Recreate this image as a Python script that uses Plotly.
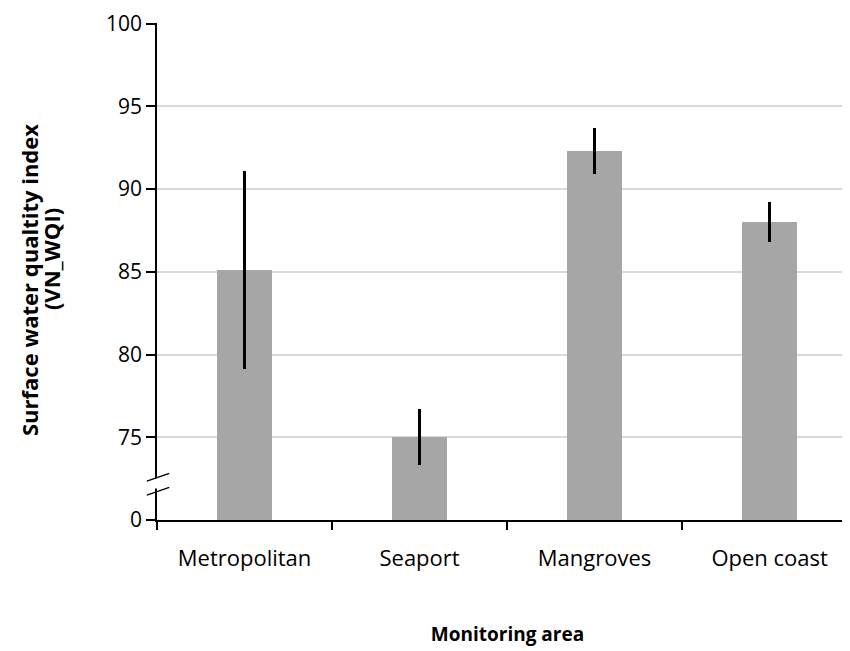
import plotly.graph_objects as go

categories = ["Metropolitan", "Seaport", "Mangroves", "Open coast"]
wqi_mean = [85.1, 75.0, 92.3, 88.0]
wqi_err = [6.0, 1.7, 1.4, 1.2]

y_tickvals = [70, 75, 80, 85, 90, 95, 100]
y_ticktext = ["0", "75", "80", "85", "90", "95", "100"]

y_title_lines = ["Surface water qualtity index", "(VN_WQI)"]
x_title = "Monitoring area"

FONT = "Open Sans"

fig = go.Figure()
fig.add_trace(go.Bar(
    x=categories,
    y=wqi_mean,
    width=0.31,
    marker=dict(color="#a6a6a6", line=dict(width=0)),
    error_y=dict(type="data", array=wqi_err, visible=True,
                 color="black", thickness=2.5, width=0),
))

# axis-break marks on the y axis
fig.add_shape(type="rect", xref="paper", yref="y", x0=-0.01, x1=0.01,
              y0=71.9, y1=72.5, fillcolor="white", line=dict(width=0), layer="above")
for yb in [71.5, 72.35]:
    fig.add_shape(type="line", xref="paper", yref="y",
                  x0=-0.0145, x1=0.0175, y0=yb, y1=yb + 0.47,
                  line=dict(color="black", width=1.3), layer="above")

# y-axis title (two lines)
for txt, xp, yp in [(y_title_lines[0], -0.1825, 0.483), (y_title_lines[1], -0.1512, 0.525)]:
    fig.add_annotation(text="<b>" + txt + "</b>", xref="paper", yref="paper",
                       x=xp, y=yp, xanchor="center", yanchor="middle",
                       textangle=-90, showarrow=False,
                       font=dict(family=FONT, size=22, color="black"))

fig.update_layout(
    width=850, height=651,
    margin=dict(l=149, r=0, t=15, b=139),
    paper_bgcolor="white", plot_bgcolor="white",
    font=dict(family=FONT, size=22, color="black"),
    showlegend=False,
    bargap=0,
    xaxis=dict(
        range=[-0.5, 3.505],
        automargin=False,
        tickson="boundaries",
        ticks="outside", ticklen=8, tickwidth=1.5, tickcolor="black",
        showline=True, linecolor="black", linewidth=1.5,
        showgrid=False,
        tickfont=dict(family=FONT, size=22),
        ticklabelstandoff=18,
        title=dict(text="<b>" + x_title + "</b>", standoff=57,
                   font=dict(family=FONT, size=19)),
    ),
    yaxis=dict(
        range=[70, 100.03],
        automargin=False,
        tickvals=y_tickvals, ticktext=y_ticktext,
        ticks="outside", ticklen=9, tickwidth=1.5, tickcolor="black",
        showline=True, linecolor="black", linewidth=1.5,
        showgrid=True, gridcolor="#d9d9d9", gridwidth=1.5,
        zeroline=False,
        ticklabeloverflow="allow",
        tickfont=dict(family=FONT, size=21),
    ),
)

fig.write_html("out.html")
